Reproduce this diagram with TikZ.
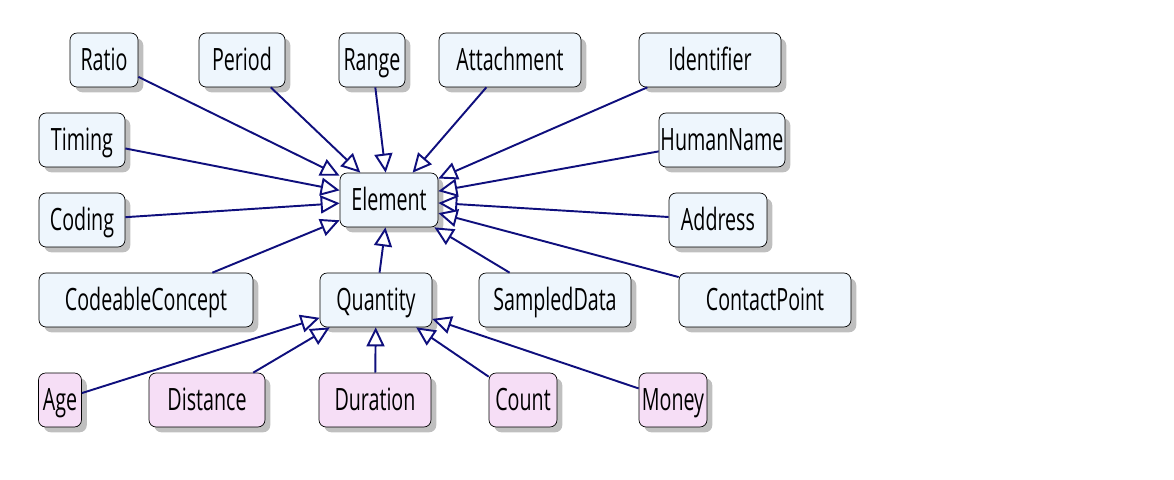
\documentclass[tikz,border=0pt]{standalone}
\usepackage{fontspec}
\setmainfont[FakeStretch=0.64]{Open Sans}
\usepackage{tikz}
\usetikzlibrary{arrows.meta, shadows}
\usepackage{xcolor}
\definecolor{classfill}{RGB}{238,246,253}
\definecolor{typefill}{RGB}{246,222,246}
\definecolor{linkcolor}{RGB}{15,15,125}

\begin{document}
\begin{tikzpicture}[
    x=0.02cm, y=-0.02cm,
    box/.style={draw=black, thin, rounded corners=4pt, minimum height=1.08cm,
                inner xsep=0pt, inner ysep=1pt, text height=12.5pt, text depth=0pt,
                align=center, font=\fontsize{17.5}{20}\selectfont,
                fill=classfill,
                drop shadow={shadow xshift=3pt, shadow yshift=-3pt, opacity=0.5}},
    qbox/.style={box, fill=typefill},
    arr/.style={-{Triangle[length=0.38cm, width=0.36cm, fill=white]},
                line width=1.1pt, linkcolor}
]
\useasboundingbox (0,0) rectangle (1174,480);

% Centre : Element
\node[box, minimum width=1.96cm] (element) at (389,200) {Element};

% Rangee du haut
\node[box, minimum width=1.36cm] (ratio)      at (104,60) {Ratio};
\node[box, minimum width=1.72cm] (period)     at (242,60) {Period};
\node[box, minimum width=1.32cm] (range)      at (372,60) {Range};
\node[box, minimum width=2.84cm] (attachment) at (510,60) {Attachment};
\node[box, minimum width=2.84cm] (identifier) at (710,60) {Identifier};

% Cote gauche
\node[box, minimum width=1.72cm] (timing)    at (82,140)  {Timing};
\node[box, minimum width=1.72cm] (coding)    at (82,220)  {Coding};
\node[box, minimum width=4.28cm] (codeable)  at (146,300) {CodeableConcept};

% Cote droit
\node[box, minimum width=2.52cm] (humanname) at (722,140) {HumanName};
\node[box, minimum width=1.96cm] (address)   at (718,220) {Address};
\node[box, minimum width=3.44cm] (contact)   at (765,300) {ContactPoint};
\node[box, minimum width=3.04cm] (sampled)   at (555,300) {SampledData};

% Quantity et ses sous-types
\node[box, minimum width=2.24cm] (quantity) at (376,300) {Quantity};
\node[qbox, minimum width=0.86cm] (age)      at (60,400)  {Age};
\node[qbox, minimum width=2.32cm] (distance) at (207,400) {Distance};
\node[qbox, minimum width=2.24cm] (duration) at (375,400) {Duration};
\node[qbox, minimum width=1.36cm] (count)    at (523,400) {Count};
\node[qbox, minimum width=1.36cm] (money)    at (673,400) {Money};

% Fleches vers Element
\foreach \typ in {ratio, period, range, attachment, identifier, timing, humanname,
                  coding, address, codeable, quantity, sampled, contact}
    \draw[arr] (\typ) -- (element);

% Fleches vers Quantity
\foreach \typ in {age, distance, duration, count, money}
    \draw[arr] (\typ) -- (quantity);

\end{tikzpicture}
\end{document}
